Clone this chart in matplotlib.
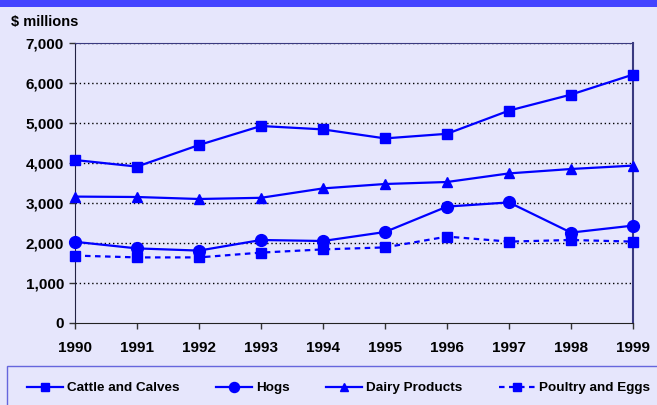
import matplotlib.pyplot as plt
from matplotlib.patches import Rectangle

years = [1990, 1991, 1992, 1993, 1994, 1995, 1996, 1997, 1998, 1999]
cattle = [4075, 3910, 4450, 4925, 4840, 4615, 4730, 5310, 5710, 6210]
hogs = [2030, 1865, 1810, 2075, 2050, 2275, 2910, 3015, 2260, 2435]
dairy = [3160, 3150, 3100, 3130, 3365, 3475, 3525, 3740, 3850, 3935]
poultry = [1685, 1640, 1640, 1760, 1840, 1890, 2160, 2035, 2075, 2035]
yticks = [0, 1000, 2000, 3000, 4000, 5000, 6000, 7000]

plt.rcParams['font.family'] = ['Liberation Sans', 'DejaVu Sans']
plt.rcParams['font.weight'] = 'bold'

bg = '#E6E6FC'
blue = '#0000FF'
navy = '#3A3A80'

fig = plt.figure(figsize=(6.57, 4.05), dpi=100, facecolor=bg)
ax = fig.add_axes([75 / 657, 1 - 323 / 405, 558 / 657, 280 / 405])
ax.set_facecolor(bg)

# title bar (its text is cut off at the top of the picture)
fig.patches.append(Rectangle((0, 1 - 7 / 405), 1, 7 / 405, transform=fig.transFigure,
                             facecolor='#4444FF', edgecolor='none'))

# legend box
fig.patches.append(Rectangle((7 / 657, -0.05), 1, 0.05 + 39 / 405, transform=fig.transFigure,
                             facecolor=bg, edgecolor='#6666DD', linewidth=1))

ax.plot(years, cattle, color=blue, lw=1.6, marker='s', ms=6.5, clip_on=False, label='Cattle and Calves', zorder=5)
ax.plot(years, hogs, color=blue, lw=1.6, marker='o', ms=8.5, clip_on=False, label='Hogs', zorder=5)
ax.plot(years, dairy, color=blue, lw=1.6, marker='^', ms=7, clip_on=False, label='Dairy Products', zorder=5)
ax.plot(years, poultry, color=blue, lw=1.6, ls=(0, (2.5, 2)), marker='s', ms=7, clip_on=False,
        label='Poultry and Eggs', zorder=5)

ax.set_xlim(1990, 1999)
ax.set_ylim(0, 7000)
ax.set_xticks(years)
ax.set_yticks(yticks)
ax.set_yticklabels([f'{v:,}' for v in yticks])
ax.tick_params(labelsize=11, length=4, width=1, direction='out', color='#333333')
ax.tick_params(axis='x', pad=9)
ax.tick_params(axis='y', pad=4)
for v in yticks[1:]:
    ax.axhline(v, color='black', lw=1, ls=(0, (1, 2)), zorder=1)

ax.spines['left'].set_color('#222244')
ax.spines['bottom'].set_color('#222222')
ax.spines['top'].set_color(navy)
ax.spines['right'].set_color(navy)
ax.spines['right'].set_linewidth(1.5)

fig.text(11 / 657, 1 - 22 / 405, '$ millions', fontsize=10.5, fontweight='bold', va='center')

fig.legend(loc='center left', bbox_to_anchor=(27 / 657, 1 - 388 / 405), ncol=4, frameon=False,
           fontsize=9.7, borderpad=0, borderaxespad=0, handlelength=2.67, handletextpad=0.3,
           columnspacing=2.7, markerscale=0.85)

fig.savefig('out.png', dpi=100, facecolor=bg)
